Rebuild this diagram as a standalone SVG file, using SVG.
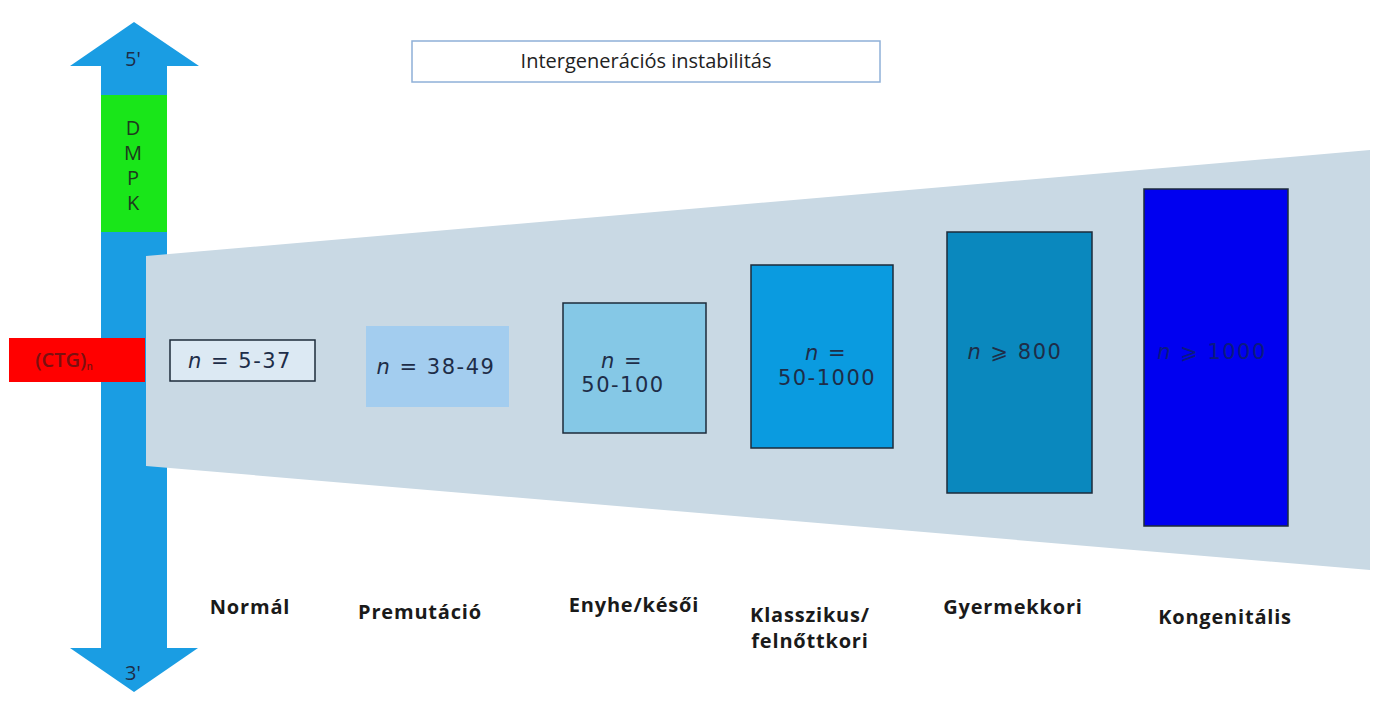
<svg xmlns="http://www.w3.org/2000/svg" width="1386" height="708" viewBox="0 0 1386 708">
<style>
.lbl{font-family:"Open Sans","DejaVu Sans",sans-serif;font-weight:bold;font-size:20px;letter-spacing:0.8px;fill:#1a1a1a;text-anchor:middle}
.val{font-family:"DejaVu Sans","Liberation Sans",sans-serif;font-size:21px;letter-spacing:1.5px;fill:#1e2d48;text-anchor:middle}
.box{stroke:#1d2b3a;stroke-width:1.5}
.it{font-style:italic}
.ax{font-family:"Open Sans","DejaVu Sans",sans-serif;font-size:20px;text-anchor:middle}
</style>
<rect width="1386" height="708" fill="#ffffff"/>
<g id="axis">
<polygon points="134,22 199,66 167,66 167,648 198,648 134,692 70,648 101,648 101,66 70,66" fill="#1a9de3"/>
<rect x="101" y="95" width="66" height="137" fill="#19e619"/>
<text class="ax" x="133" y="66" fill="#1e2d48">5'</text>
<text class="ax" x="133" y="680" fill="#1e2d48">3'</text>
<g fill="#1e3a1e">
<text class="ax" x="133" y="135">D</text>
<text class="ax" x="133" y="160">M</text>
<text class="ax" x="133" y="185">P</text>
<text class="ax" x="133" y="210">K</text>
</g>
</g>
<g id="trapezoid">
<polygon points="146,256 1370,150 1370,570 146,466" fill="#c9d9e4"/>
</g>
<g id="ctg">
<rect x="9" y="338" width="136" height="44" fill="#ff0000"/>
<text x="64" y="367" font-family="Open Sans, DejaVu Sans, sans-serif" font-size="20" font-weight="600" fill="#7a1010" text-anchor="middle">(CTG)<tspan font-size="10" dy="3">n</tspan></text>
</g>
<g id="title">
<rect x="412" y="41" width="468" height="41" fill="#ffffff" stroke="#8fb0d8" stroke-width="1.5"/>
<text x="646" y="68" font-family="Open Sans, Liberation Sans, sans-serif" font-size="20" fill="#222" text-anchor="middle">Intergenerációs instabilitás</text>
</g>
<g id="normal">
<rect class="box" x="170" y="340" width="145" height="41" fill="#dce9f3"/>
<text class="val" x="240" y="368"><tspan class="it">n</tspan> = 5-37</text>
<text class="lbl" x="250" y="614">Normál</text>
</g>
<g id="premutacio">
<rect x="366" y="326" width="143" height="81" fill="#a3cdef"/>
<text class="val" x="436" y="374"><tspan class="it">n</tspan> = 38-49</text>
<text class="lbl" x="420" y="619">Premutáció</text>
</g>
<g id="enyhe">
<rect class="box" x="563" y="303" width="143" height="130" fill="#85c8e6"/>
<text class="val" x="622" y="368"><tspan class="it">n</tspan> =</text>
<text class="val" x="623" y="392">50-100</text>
<text class="lbl" x="634" y="612">Enyhe/késői</text>
</g>
<g id="klasszikus">
<rect class="box" x="751" y="265" width="142" height="183" fill="#0a9be0"/>
<text class="val" x="826" y="360"><tspan class="it">n</tspan> =</text>
<text class="val" x="827" y="385">50-1000</text>
<text class="lbl" x="810" y="622">Klasszikus/</text>
<text class="lbl" x="810" y="648">felnőttkori</text>
</g>
<g id="gyermekkori">
<rect class="box" x="947" y="232" width="145" height="261" fill="#0a88be"/>
<text class="val" x="1015" y="359"><tspan class="it">n</tspan> ⩾ 800</text>
<text class="lbl" x="1013" y="614">Gyermekkori</text>
</g>
<g id="kongenitalis">
<rect class="box" x="1144" y="189" width="144" height="337" fill="#0000f0"/>
<text class="val" x="1212" y="359" style="fill:#0a1a80"><tspan class="it">n</tspan> ⩾ 1000</text>
<text class="lbl" x="1225" y="624">Kongenitális</text>
</g>
<g id="connectors"></g>
</svg>
